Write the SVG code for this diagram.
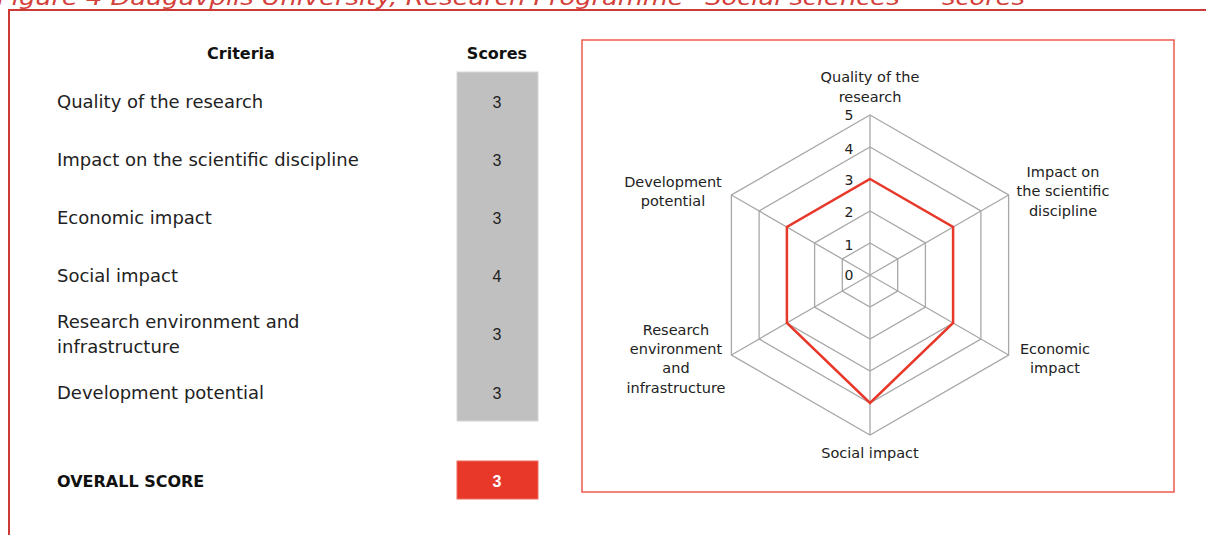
<svg xmlns="http://www.w3.org/2000/svg" width="1206" height="535" viewBox="0 0 1206 535">
<style>
.cap{font-family:"DejaVu Sans","Liberation Sans",sans-serif;font-style:italic;font-size:21px;fill:#d4403a}
.t{font-family:"DejaVu Sans","Liberation Sans",sans-serif;font-size:18px;fill:#222}
.h{font-family:"DejaVu Sans","Liberation Sans",sans-serif;font-size:16px;font-weight:bold;fill:#111}
.s{font-family:"Liberation Sans",sans-serif;font-size:16px;fill:#222;text-anchor:middle}
.l{font-family:"DejaVu Sans","Liberation Sans",sans-serif;font-size:14.5px;fill:#222;text-anchor:middle}
.n{font-family:"DejaVu Sans","Liberation Sans",sans-serif;font-size:14px;fill:#222;text-anchor:middle}
.grid{fill:none;stroke:#a8a8a8;stroke-width:1.3}
</style>
<g id="frame">
<text class="cap" x="-3" y="5" textLength="1028" lengthAdjust="spacingAndGlyphs">Figure 4 Daugavpils University, Research Programme “Social sciences” – scores</text>
<path d="M9,535 V10 H1206" fill="none" stroke="#cc3a36" stroke-width="2"/>
</g>
<g id="table">
<text class="h" x="241" y="59" text-anchor="middle">Criteria</text>
<text class="h" x="497" y="59" text-anchor="middle">Scores</text>
<rect x="457" y="72" width="81" height="349" fill="#c0c0c0" stroke="#d6d6d6" stroke-width="1"/>
<text class="t" x="57" y="108">Quality of the research</text>
<text class="t" x="57" y="166">Impact on the scientific discipline</text>
<text class="t" x="57" y="224">Economic impact</text>
<text class="t" x="57" y="282">Social impact</text>
<text class="t" x="57" y="328">Research environment and</text>
<text class="t" x="57" y="353">infrastructure</text>
<text class="t" x="57" y="399">Development potential</text>
<text class="s" x="497" y="108">3</text>
<text class="s" x="497" y="166">3</text>
<text class="s" x="497" y="224">3</text>
<text class="s" x="497" y="282">4</text>
<text class="s" x="497" y="340">3</text>
<text class="s" x="497" y="399">3</text>
<text class="h" x="57" y="487">OVERALL SCORE</text>
<rect x="457" y="461" width="81" height="38" fill="#e8382a" stroke="#f06a5e" stroke-width="1"/>
<text class="s" x="497" y="487" style="fill:#fff;font-weight:bold">3</text>
</g>
<g id="chart">
<rect x="582" y="40" width="592" height="452" fill="#fff" stroke="#ee5a4f" stroke-width="1.5"/>
<g class="grid">
<polygon points="870,115 1008.6,195 1008.6,355 870,435 731.4,355 731.4,195"/>
<polygon points="870,147 980.9,211 980.9,339 870,403 759.1,339 759.1,211"/>
<polygon points="870,179 953.1,227 953.1,323 870,371 786.9,323 786.9,227"/>
<polygon points="870,211 925.4,243 925.4,307 870,339 814.6,307 814.6,243"/>
<polygon points="870,243 897.7,259 897.7,291 870,307 842.3,291 842.3,259"/>
<path d="M870,275 V115 M870,275 L1008.6,195 M870,275 L1008.6,355 M870,275 V435 M870,275 L731.4,355 M870,275 L731.4,195"/>
</g>
<polygon points="870,179 953.1,227 953.1,323 870,403 786.9,323 786.9,227" fill="none" stroke="#e8382a" stroke-width="2.5"/>
<text class="n" x="849" y="120">5</text>
<text class="n" x="849" y="154">4</text>
<text class="n" x="849" y="185">3</text>
<text class="n" x="849" y="217">2</text>
<text class="n" x="849" y="250">1</text>
<text class="n" x="849" y="280">0</text>
<text class="l" x="870" y="82">Quality of the</text>
<text class="l" x="870" y="102">research</text>
<text class="l" x="1063" y="177">Impact on</text>
<text class="l" x="1063" y="196">the scientific</text>
<text class="l" x="1063" y="216">discipline</text>
<text class="l" x="1055" y="354">Economic</text>
<text class="l" x="1055" y="373">impact</text>
<text class="l" x="870" y="458">Social impact</text>
<text class="l" x="676" y="335">Research</text>
<text class="l" x="676" y="354">environment</text>
<text class="l" x="676" y="373">and</text>
<text class="l" x="676" y="393">infrastructure</text>
<text class="l" x="673" y="187">Development</text>
<text class="l" x="673" y="206">potential</text>
</g>
</svg>
